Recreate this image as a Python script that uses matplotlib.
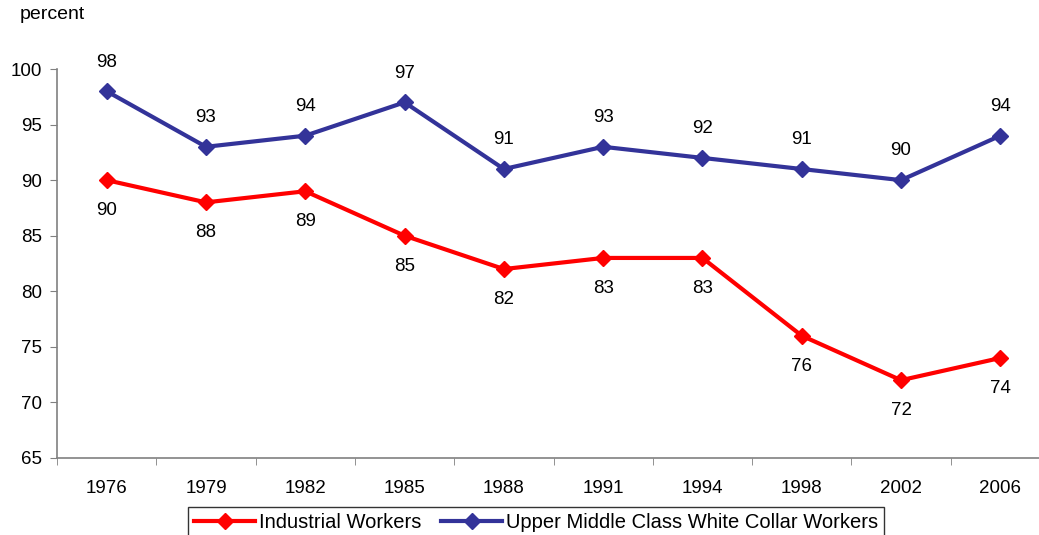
import numpy as np
import matplotlib.pyplot as plt

plt.rcParams['font.family'] = ['Liberation Sans', 'DejaVu Sans']

years = ["1976", "1979", "1982", "1985", "1988", "1991", "1994", "1998", "2002", "2006"]
industrial = [90, 88, 89, 85, 82, 83, 83, 76, 72, 74]
white_collar = [98, 93, 94, 97, 91, 93, 92, 91, 90, 94]

red = "#FF0000"
blue = "#333399"

fig = plt.figure(figsize=(10.39, 5.35), dpi=100)
ax = fig.add_axes([57 / 1039, 1 - 458 / 535, (1050 - 57) / 1039, (458 - 69) / 535])

x = np.arange(len(years))
ax.plot(x, industrial, color=red, lw=3, marker="D", ms=8, label="Industrial Workers")
ax.plot(x, white_collar, color=blue, lw=3, marker="D", ms=8,
        label="Upper Middle Class White Collar Workers")

for xi, v in zip(x, industrial):
    ax.annotate(str(v), (xi, v), xytext=(0, -22), textcoords="offset points",
                ha="center", va="center", fontsize=13.5)
for xi, v in zip(x, white_collar):
    ax.annotate(str(v), (xi, v), xytext=(0, 21), textcoords="offset points",
                ha="center", va="center", fontsize=13.5)

ax.set_xlim(-0.5, len(years) - 0.5)
ax.set_ylim(65, 100)
ax.set_yticks(range(65, 101, 5))
ax.set_xticks(x)
ax.set_xticklabels(years)
ax.set_xticks(np.arange(-0.5, len(years)), minor=True)
ax.tick_params(axis="x", which="major", length=0, pad=16, labelsize=13.5)
ax.tick_params(axis="x", which="minor", length=5, color="#808080", direction="out")
ax.tick_params(axis="y", length=5, color="#808080", labelsize=13.5, pad=6)

for s in ["top", "right"]:
    ax.spines[s].set_visible(False)
for s in ["left", "bottom"]:
    ax.spines[s].set_color("#808080")
    ax.spines[s].set_linewidth(1.2)

fig.text(0.019, 0.972, "percent", fontsize=14, ha="left", va="center")

leg = fig.legend(loc="lower center", bbox_to_anchor=(0.516, -0.005), ncol=2, fontsize=14.5,
                 frameon=True, fancybox=False, edgecolor="black", handlelength=3,
                 handletextpad=0.2, columnspacing=1.0, borderpad=0.3, borderaxespad=0)
leg.get_frame().set_linewidth(1)

fig.savefig("out.png", dpi=100)
